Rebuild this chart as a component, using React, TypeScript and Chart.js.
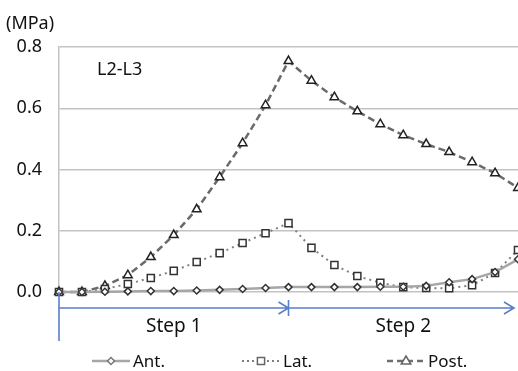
import React, { useEffect, useRef } from "react";
import { Chart, registerables } from "chart.js";

Chart.register(...registerables);

const loadSteps = ["0","1","2","3","4","5","6","7","8","9","10","11","12","13","14","15","16","17","18","19","20"];
const antValues = [0, 0, 0.001, 0.002, 0.003, 0.003, 0.005, 0.007, 0.01, 0.013, 0.016, 0.016, 0.016, 0.016, 0.017, 0.017, 0.02, 0.032, 0.042, 0.065, 0.107];
const latValues = [0, 0, 0.01, 0.026, 0.046, 0.069, 0.098, 0.127, 0.16, 0.192, 0.225, 0.144, 0.088, 0.052, 0.03, 0.016, 0.013, 0.012, 0.022, 0.062, 0.137];
const postValues = [0, 0, 0.02, 0.055, 0.114, 0.186, 0.27, 0.375, 0.486, 0.61, 0.754, 0.69, 0.636, 0.59, 0.548, 0.512, 0.483, 0.457, 0.424, 0.388, 0.34];
const seriesNames = ["Ant.", "Lat.", "Post."];
const stepLabels = ["Step 1", "Step 2"];
const stepBounds = [0, 10, 20];
const unitLabel = "(MPa)";
const panelLabel = "L2-L3";

const FONT = "'Noto Sans', 'Open Sans', sans-serif";
const BLUE = "#5a7fc8";

function drawMarker(ctx: CanvasRenderingContext2D, style: string, x: number, y: number, r: number, stroke: string) {
  ctx.save();
  ctx.setLineDash([]);
  ctx.fillStyle = "#fff";
  ctx.strokeStyle = stroke;
  ctx.lineWidth = 1.5;
  ctx.beginPath();
  if (style === "rectRot") {
    ctx.moveTo(x, y - r); ctx.lineTo(x + r, y); ctx.lineTo(x, y + r); ctx.lineTo(x - r, y); ctx.closePath();
  } else if (style === "rect") {
    ctx.rect(x - r * 0.8, y - r * 0.8, r * 1.6, r * 1.6);
  } else {
    ctx.moveTo(x, y - r); ctx.lineTo(x + r * 0.95, y + r * 0.6); ctx.lineTo(x - r * 0.95, y + r * 0.6); ctx.closePath();
  }
  ctx.fill();
  ctx.stroke();
  ctx.restore();
}

const overlayPlugin = {
  id: "overlay",
  afterDraw(chart: any) {
    const ctx: CanvasRenderingContext2D = chart.ctx;
    const xs = chart.scales.x;
    const ys = chart.scales.y;
    const base = ys.getPixelForValue(0);
    const x0 = xs.getPixelForValue(stepBounds[0]);
    const x1 = xs.getPixelForValue(stepBounds[1]);
    const x2 = xs.getPixelForValue(stepBounds[2]);
    const ay = base + 16;
    ctx.save();
    // texts
    ctx.fillStyle = "#111";
    ctx.font = `18px ${FONT}`;
    ctx.textBaseline = "middle";
    ctx.textAlign = "left";
    ctx.fillText(unitLabel, 6, 24);
    ctx.fillText(panelLabel, 97, 70);
    // step arrows
    ctx.strokeStyle = BLUE;
    ctx.lineWidth = 1.6;
    ctx.beginPath();
    ctx.moveTo(x0, base); ctx.lineTo(x0, base + 49);
    ctx.moveTo(x1, base + 8); ctx.lineTo(x1, base + 24);
    ctx.moveTo(x0, ay); ctx.lineTo(x1, ay);
    ctx.moveTo(x1, ay); ctx.lineTo(x2 - 4, ay);
    ctx.moveTo(x1 - 10, ay - 6); ctx.lineTo(x1, ay); ctx.lineTo(x1 - 10, ay + 6);
    ctx.moveTo(x2 - 14, ay - 6); ctx.lineTo(x2 - 4, ay); ctx.lineTo(x2 - 14, ay + 6);
    ctx.stroke();
    ctx.fillStyle = "#111";
    ctx.font = `19px ${FONT}`;
    ctx.textAlign = "center";
    ctx.fillText(stepLabels[0], (x0 + x1) / 2, base + 35);
    ctx.fillText(stepLabels[1], (x1 + x2) / 2, base + 35);
    // legend
    const ly = 361;
    const items = [
      { x: 92, name: seriesNames[0], color: "#a6a6a6", dash: [] as number[], w: 2.5, marker: "rectRot", r: 3.5 },
      { x: 242, name: seriesNames[1], color: "#7f7f7f", dash: [2, 3], w: 2, marker: "rect", r: 4.5 },
      { x: 387, name: seriesNames[2], color: "#6f6f6f", dash: [6, 4], w: 2.5, marker: "triangle", r: 5 },
    ];
    items.forEach((it) => {
      ctx.save();
      ctx.strokeStyle = it.color;
      ctx.lineWidth = it.w;
      ctx.setLineDash(it.dash);
      ctx.beginPath();
      ctx.moveTo(it.x, ly); ctx.lineTo(it.x + 38, ly);
      ctx.stroke();
      ctx.restore();
      drawMarker(ctx, it.marker, it.x + 19, ly, it.r, it.marker === "rectRot" ? "#777" : "#666");
      ctx.fillStyle = "#111";
      ctx.font = `17px ${FONT}`;
      ctx.textAlign = "left";
      ctx.fillText(it.name, it.x + 41, ly + 1);
    });
    ctx.restore();
  },
};

export default function App() {
  const ref = useRef<HTMLCanvasElement | null>(null);
  useEffect(() => {
    if (!ref.current) return;
    const chart = new Chart(ref.current, {
      type: "line",
      data: {
        labels: loadSteps,
        datasets: [
          {
            label: seriesNames[0],
            data: antValues,
            borderColor: "#a6a6a6",
            borderWidth: 2.5,
            pointStyle: "rectRot",
            pointRadius: 3.5,
            pointBackgroundColor: "#fff",
            pointBorderColor: "#333",
            pointBorderWidth: 1.5,
            clip: false,
            order: 1,
          },
          {
            label: seriesNames[1],
            data: latValues,
            borderColor: "#7f7f7f",
            borderWidth: 2,
            borderDash: [2, 4],
            pointStyle: "rect",
            pointRadius: 5,
            pointBackgroundColor: "#fff",
            pointBorderColor: "#333",
            pointBorderWidth: 1.5,
            clip: false,
            order: 2,
          },
          {
            label: seriesNames[2],
            data: postValues,
            borderColor: "#6a6a6a",
            borderWidth: 2.5,
            borderDash: [7, 4],
            pointStyle: "triangle",
            pointRadius: 5,
            pointBackgroundColor: "#fff",
            pointBorderColor: "#222",
            pointBorderWidth: 1.5,
            clip: false,
            order: 3,
          },
        ],
      },
      options: {
        responsive: false,
        animation: false,
        devicePixelRatio: 1,
        layout: { autoPadding: false, padding: { top: 47, bottom: 79, left: 0, right: 0 } },
        plugins: { legend: { display: false }, tooltip: { enabled: false } },
        scales: {
          x: { type: "category", offset: false, display: false },
          y: {
            min: 0,
            max: 0.8,
            ticks: {
              stepSize: 0.2,
              padding: 17,
              color: "#111",
              font: { family: FONT, size: 18 },
              callback: (v: any) => Number(v).toFixed(1),
            },
            grid: { color: "#c3c3c3", lineWidth: 1.5, drawTicks: false },
            border: { display: true, color: "#c3c3c3", width: 1.5 },
            afterFit: (s: any) => { s.width = 59; },
          },
        },
      },
      plugins: [overlayPlugin],
    });
    return () => chart.destroy();
  }, []);
  return (
    <div style={{ position: "absolute", left: 0, top: 0, width: 518, height: 371, background: "#fff" }}>
      <canvas ref={ref} width={518} height={371} />
    </div>
  );
}
